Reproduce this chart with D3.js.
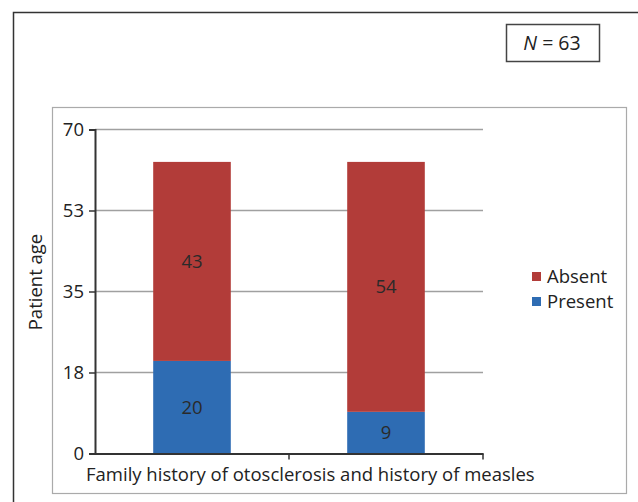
<!DOCTYPE html>
<html>
<head>
<meta charset="utf-8">
<script src="https://cdn.jsdelivr.net/npm/d3@7"></script>
<style>
  body { margin: 0; background: #fff; }
  text { font-family: "Open Sans", sans-serif; fill: #222; }
</style>
</head>
<body>
<div id="chart"></div>
<script>
// data
const categories = ['A', 'B'];
const seriesNames = ['Present', 'Absent'];
const present = [20, 9];
const absent = [43, 54];
const yTicks = [0, 17.5, 35, 52.5, 70];
const yTickLabels = ['0', '18', '35', '53', '70'];
const xTitle = 'Family history of otosclerosis and history of measles';
const yTitle = 'Patient age';
const noteText = '63';

const colors = {Present: '#2e6cb3', Absent: '#b23c39'};

const width = 638;
const height = 502;
const fs = '18.5px';

const svg = d3.select('#chart').append('svg')
  .attr('width', width)
  .attr('height', height);

// outer frame (right / bottom edges fall off the picture)
svg.append('path')
  .attr('d', 'M13.5,' + height + 'V12.5H' + width)
  .attr('fill', 'none')
  .attr('stroke', '#333')
  .attr('stroke-width', 1.5);

// N box
svg.append('rect')
  .attr('x', 506.5).attr('y', 24.5)
  .attr('width', 93).attr('height', 37)
  .attr('fill', '#fff')
  .attr('stroke', '#444')
  .attr('stroke-width', 1.5);

const note = svg.append('text')
  .attr('x', 552).attr('y', 50)
  .attr('text-anchor', 'middle')
  .style('font-size', '19.5px');
note.append('tspan').style('font-style', 'italic').text('N');
note.append('tspan').text(' = ' + noteText);

// inner chart box
svg.append('rect')
  .attr('x', 52.5).attr('y', 107.5)
  .attr('width', 574).attr('height', 386)
  .attr('fill', '#fff')
  .attr('stroke', '#aaa')
  .attr('stroke-width', 1.2);

const x = d3.scaleBand()
  .domain(categories)
  .range([95, 483])
  .paddingInner(0)
  .paddingOuter(0);

const y = d3.scaleLinear()
  .domain([0, 70])
  .range([453.5, 129.5]);

// gridlines
svg.append('g')
  .selectAll('line')
  .data(yTicks.slice(1))
  .enter().append('line')
    .attr('x1', 95).attr('x2', 483)
    .attr('y1', d => y(d)).attr('y2', d => y(d))
    .attr('stroke', '#a0a0a0')
    .attr('stroke-width', 1.6);

// stacked bars
const table = categories.map((c, i) => ({cat: c, Present: present[i], Absent: absent[i]}));
const stacked = d3.stack().keys(seriesNames)(table);
const barW = x.bandwidth() * 0.4;

const layers = svg.append('g')
  .selectAll('g')
  .data(stacked)
  .enter().append('g')
    .attr('fill', d => colors[d.key]);

layers.selectAll('rect')
  .data(d => d)
  .enter().append('rect')
    .attr('x', d => x(d.data.cat) + (x.bandwidth() - barW) / 2)
    .attr('width', barW)
    .attr('y', d => y(d[1]))
    .attr('height', d => y(d[0]) - y(d[1]));

layers.selectAll('text')
  .data(d => d)
  .enter().append('text')
    .attr('x', d => x(d.data.cat) + x.bandwidth() / 2)
    .attr('y', d => (y(d[0]) + y(d[1])) / 2 + 6.5)
    .attr('text-anchor', 'middle')
    .style('font-size', fs)
    .style('fill', '#2a2a2a')
    .text(d => d[1] - d[0]);

// y axis
const yAxis = d3.axisLeft(y)
  .tickValues(yTicks)
  .tickFormat((d, i) => yTickLabels[i])
  .tickSize(6)
  .tickPadding(5);

const gy = svg.append('g')
  .attr('transform', 'translate(95,0)')
  .call(yAxis);
gy.select('.domain').attr('stroke', '#333').attr('stroke-width', 2);
gy.selectAll('.tick line').attr('stroke', '#333').attr('stroke-width', 1.5);
gy.selectAll('.tick text')
  .style('font-size', fs)
  .style('fill', '#222')
  .attr('font-family', null);

// x axis
const xAxis = d3.axisBottom(x)
  .tickValues([])
  .tickSizeOuter(0);
const gx = svg.append('g')
  .attr('transform', 'translate(0,453.5)')
  .call(xAxis);
gx.select('.domain').attr('stroke', '#333').attr('stroke-width', 2);
gx.selectAll('line.sep')
  .data(x.domain().map(c => x(c) + x.bandwidth()))
  .enter().append('line')
    .attr('class', 'sep')
    .attr('x1', d => d).attr('x2', d => d)
    .attr('y1', 0).attr('y2', 6)
    .attr('stroke', '#333')
    .attr('stroke-width', 1.5);

// start the title just right of the "0" label so the two don't collide
svg.append('text')
  .attr('x', 86)
  .attr('y', 481)
  .style('font-size', fs)
  .text(xTitle);

svg.append('text')
  .attr('transform', 'translate(42,282) rotate(-90)')
  .attr('text-anchor', 'middle')
  .style('font-size', fs)
  .text(yTitle);

// legend
const legend = svg.append('g')
  .selectAll('g')
  .data(seriesNames.slice().reverse())
  .enter().append('g')
    .attr('transform', (d, i) => 'translate(532,' + (272 + i * 25) + ')');

legend.append('rect')
  .attr('width', 9).attr('height', 9)
  .attr('fill', d => colors[d]);

legend.append('text')
  .attr('x', 15).attr('y', 10.5)
  .style('font-size', fs)
  .text(d => d);
</script>
</body>
</html>
